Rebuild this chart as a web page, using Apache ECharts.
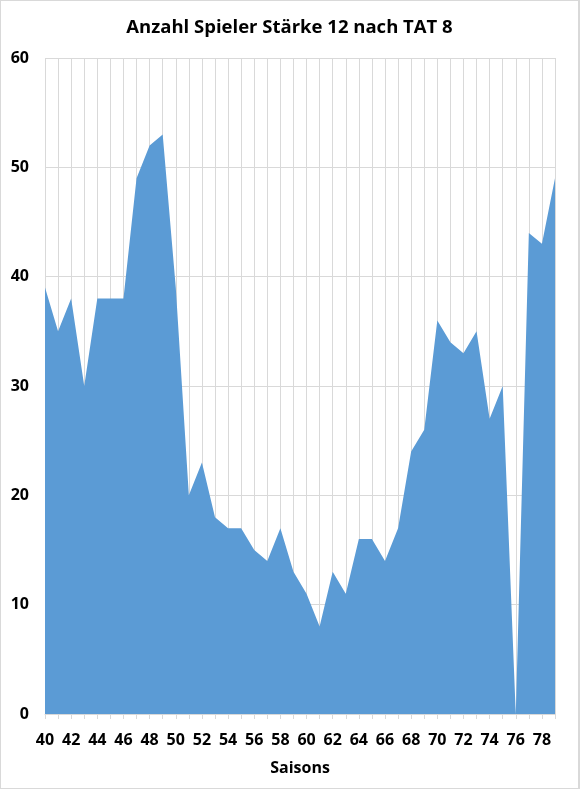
<!DOCTYPE html>
<html>
<head>
<meta charset="utf-8">
<script src="https://cdn.jsdelivr.net/npm/echarts@6/dist/echarts.min.js"></script>
<style>
  html, body { margin: 0; padding: 0; background: #fff; }
  #main { width: 580px; height: 789px; box-sizing: border-box; border: 1px solid #d9d9d9; border-right-width: 2px; }
</style>
</head>
<body>
<div id="main"></div>
<script>
// Saisons 40..79
const seasons = ['40','41','42','43','44','45','46','47','48','49',
  '50','51','52','53','54','55','56','57','58','59',
  '60','61','62','63','64','65','66','67','68','69',
  '70','71','72','73','74','75','76','77','78','79'];
const players = [39, 35, 38, 30, 38, 38, 38, 49, 52, 53,
  39, 20, 23, 18, 17, 17, 15, 14, 17, 13,
  11, 8, 13, 11, 16, 16, 14, 17, 24, 26,
  36, 34, 33, 35, 27, 30, 0, 44, 43, 49];

const chart = echarts.init(document.getElementById('main'));
const font = '"Open Sans", Lato, sans-serif';

chart.setOption({
  animation: false,
  title: {
    text: 'Anzahl Spieler Stärke 12 nach TAT 8',
    left: 'center',
    top: 12,
    textStyle: { fontFamily: font, fontSize: 18.5, fontWeight: 'bold', color: '#000' }
  },
  grid: { left: 44, right: 23, top: 57, bottom: 74 },
  xAxis: {
    type: 'category',
    data: seasons,
    boundaryGap: false,
    name: 'Saisons',
    nameLocation: 'middle',
    nameGap: 46,
    nameTextStyle: { fontFamily: font, fontSize: 16, fontWeight: 'bold', color: '#000' },
    axisLine: { lineStyle: { color: '#d9d9d9', width: 1 } },
    axisTick: { show: true, interval: 0, length: 5, lineStyle: { color: '#d9d9d9' } },
    axisLabel: { interval: 1, margin: 18, fontFamily: font, fontSize: 16, fontWeight: 'bold', color: '#000' },
    splitLine: { show: true, interval: 0, lineStyle: { color: '#d9d9d9' } }
  },
  yAxis: {
    type: 'value',
    min: 0,
    max: 60,
    interval: 10,
    axisLine: { show: false },
    axisTick: { show: false },
    axisLabel: { margin: 16, fontFamily: font, fontSize: 16, fontWeight: 'bold', color: '#000' },
    splitLine: { lineStyle: { color: '#d9d9d9' } }
  },
  series: [{
    type: 'line',
    data: players,
    symbol: 'none',
    lineStyle: { width: 0 },
    areaStyle: { color: '#5b9bd5', opacity: 1 }
  }]
});
</script>
</body>
</html>
